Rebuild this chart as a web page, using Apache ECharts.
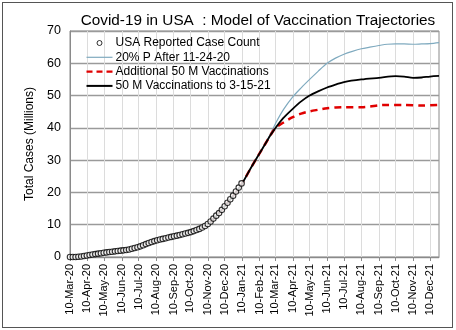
<!DOCTYPE html>
<html>
<head>
<meta charset="utf-8">
<script src="https://cdn.jsdelivr.net/npm/echarts@6/dist/echarts.min.js"></script>
<style>
html,body{margin:0;padding:0;background:#fff;}
#c{width:456px;height:330px;}
#frame{position:absolute;left:2px;top:2px;width:451px;height:326px;border:1px solid #555;pointer-events:none;box-sizing:border-box;}
</style>
</head>
<body>
<div id="c"></div>
<div id="frame"></div>
<script>
// ---- axis range ----
var axisStart = '2020-03-10';
var axisEnd = '2021-12-26';
var monthNames = ['Jan','Feb','Mar','Apr','May','Jun','Jul','Aug','Sep','Oct','Nov','Dec'];
var yTicks = [0, 10, 20, 30, 40, 50, 60, 70];

// ---- reported case counts (millions), every 5 days from 2020-03-10 ----
var reportedStart = '2020-03-10';
var reportedStepDays = 5;
var reportedValues = [
  0.001, 0.003, 0.019, 0.066, 0.163, 0.31, 0.46, 0.61, 0.76, 0.90,
  1.04, 1.18, 1.31, 1.42, 1.53, 1.64, 1.75, 1.85, 1.96, 2.06,
  2.19, 2.34, 2.55, 2.78, 3.00, 3.30, 3.65, 4.00, 4.33, 4.64,
  4.92, 5.18, 5.40, 5.61, 5.81, 6.02, 6.23, 6.42, 6.62, 6.82,
  7.04, 7.27, 7.48, 7.72, 8.02, 8.35, 8.71, 9.14, 9.62, 10.2,
  11.0, 11.9, 12.8, 13.6, 14.6, 15.7, 16.8, 17.9, 19.0, 20.3,
  21.5, 22.8
];

// ---- shared model trajectory before the scenarios diverge ----
var baseDates = ['2020-03-10','2020-03-25','2020-04-10','2020-04-25','2020-05-10','2020-05-25','2020-06-10','2020-06-25','2020-07-10','2020-07-25','2020-08-10','2020-08-25','2020-09-10','2020-09-25','2020-10-10','2020-10-25','2020-11-10','2020-11-25','2020-12-10','2020-12-25','2021-01-10','2021-01-25','2021-02-10','2021-02-20'];
var baseValues = [0.0, 0.07, 0.48, 0.93, 1.33, 1.66, 2.00, 2.42, 3.05, 4.10, 5.05, 5.75, 6.40, 7.00, 7.70, 8.65, 10.2, 12.7, 15.7, 18.9, 22.8, 27.4, 32.1, 35.0];

// ---- 20% P After 11-24-20 ----
var blueDates = ['2021-03-01','2021-03-12','2021-03-25','2021-04-10','2021-04-25','2021-05-10','2021-05-25','2021-06-10','2021-06-25','2021-07-10','2021-07-25','2021-08-10','2021-08-25','2021-09-10','2021-09-25','2021-10-10','2021-10-25','2021-11-10','2021-11-25','2021-12-10','2021-12-26'];
var blueValues = [38.0, 41.9, 45.8, 49.6, 52.4, 55.0, 57.5, 60.0, 61.6, 62.8, 63.7, 64.5, 65.0, 65.5, 65.9, 66.0, 66.0, 65.9, 66.0, 66.1, 66.4];

// ---- Additional 50 M Vaccinations ----
var redDates = ['2021-03-01','2021-03-10','2021-03-24','2021-04-10','2021-04-25','2021-05-10','2021-05-25','2021-06-10','2021-06-25','2021-07-10','2021-08-10','2021-08-25','2021-09-10','2021-09-25','2021-10-25','2021-11-25','2021-12-26'];
var redValues = [37.6, 39.9, 41.6, 43.3, 44.4, 45.1, 45.6, 46.1, 46.3, 46.4, 46.4, 46.6, 47.0, 47.1, 47.1, 46.9, 47.1];

// ---- 50 M Vaccinations to 3-15-21 ----
var blackDates = ['2021-03-01','2021-03-10','2021-03-24','2021-04-10','2021-04-25','2021-05-10','2021-05-25','2021-06-10','2021-06-25','2021-07-10','2021-08-10','2021-09-10','2021-10-10','2021-10-25','2021-11-10','2021-11-25','2021-12-10','2021-12-26'];
var blackValues = [37.6, 39.9, 43.0, 45.9, 48.2, 50.0, 51.3, 52.5, 53.4, 54.2, 55.0, 55.5, 56.0, 55.9, 55.5, 55.6, 55.9, 56.1];

var seriesNames = ['USA Reported Case Count', '20% P After 11-24-20', 'Additional 50 M Vaccinations', '50 M Vaccinations to 3-15-21'];

// ---- helpers ----
function toDate(s){ var p = s.split('-'); return new Date(Date.UTC(+p[0], +p[1]-1, +p[2])); }
function fmt(d){ var m = d.getUTCMonth()+1, dd = d.getUTCDate(); return d.getUTCFullYear()+'-'+(m<10?'0':'')+m+'-'+(dd<10?'0':'')+dd; }
var categories = [];
for (var t = toDate(axisStart).getTime(); t <= toDate(axisEnd).getTime(); t += 86400000) categories.push(fmt(new Date(t)));
function pairs(dates, values){ return dates.map(function(d,i){ return [d, values[i]]; }); }
var reportedData = reportedValues.map(function(v,i){
  return [fmt(new Date(toDate(reportedStart).getTime() + i*reportedStepDays*86400000)), v];
});
var basePairs = pairs(baseDates, baseValues);
var isTick = function(idx, val){ return val.slice(8) === '10'; };
function label(val){ var d = toDate(val); return d.getUTCDate()+'-'+monthNames[d.getUTCMonth()]+'-'+String(d.getUTCFullYear()).slice(2); }

// legend icons (26 x 10 box)
var iconCircle = 'path://M0,0M26,10M10.5,5a2.5,2.5 0 1,0 5,0a2.5,2.5 0 1,0 -5,0';
var iconThin = 'path://M0,0M26,10M0,4.4L26,4.4L26,5.6L0,5.6Z';
var iconDash = 'path://M0,0M26,10M0,3.8L6,3.8L6,6.2L0,6.2ZM10,3.8L16,3.8L16,6.2L10,6.2ZM20,3.8L26,3.8L26,6.2L20,6.2Z';
var iconThick = 'path://M0,0M26,10M0,4L26,4L26,6L0,6Z';

var FONT = '"Liberation Sans", Arial, sans-serif';
var chart = echarts.init(document.getElementById('c'), null, {renderer:'canvas'});
chart.setOption({
  animation: false,
  backgroundColor: '#fff',
  textStyle: {fontFamily: FONT},
  title: {
    text: 'Covid-19 in USA  : Model of Vaccination Trajectories',
    left: 253, top: 8, textAlign: 'center',
    textStyle: {fontFamily: FONT, fontSize: 15.3, fontWeight: 'normal', color: '#000'}
  },
  legend: {
    orient: 'vertical', left: 86, top: 37, padding: 0,
    itemWidth: 26, itemHeight: 10, itemGap: 2.3,
    textStyle: {fontFamily: FONT, fontSize: 12, lineHeight: 12, color: '#000', padding: [0,0,0,-2]},
    data: [
      {name: seriesNames[0], icon: iconCircle, itemStyle: {color: '#fff', borderColor: '#000', borderWidth: 1}},
      {name: seriesNames[1], icon: iconThin, itemStyle: {color: '#7faabf', borderWidth: 0}},
      {name: seriesNames[2], icon: iconDash, itemStyle: {color: '#e00000', borderWidth: 0}},
      {name: seriesNames[3], icon: iconThick, itemStyle: {color: '#000', borderWidth: 0}}
    ]
  },
  grid: {left: 70, right: 17, top: 31, bottom: 73, show: true, borderColor: '#8a8a8a', borderWidth: 1},
  xAxis: {
    type: 'category', data: categories, boundaryGap: false,
    axisLine: {lineStyle: {color: '#8a8a8a'}},
    axisTick: {interval: isTick, length: 4, lineStyle: {color: '#8a8a8a'}},
    axisLabel: {interval: isTick, rotate: 90, margin: 7, fontSize: 11, color: '#000', fontFamily: FONT, formatter: label},
    splitLine: {show: true, interval: isTick, lineStyle: {color: '#dcdcdc', width: 1}}
  },
  yAxis: {
    type: 'value', min: yTicks[0], max: yTicks[yTicks.length-1], interval: 10,
    name: 'Total Cases (Millions)', nameLocation: 'middle', nameGap: 34,
    nameTextStyle: {fontFamily: FONT, fontSize: 12, color: '#000'},
    axisLine: {show: true, lineStyle: {color: '#8a8a8a'}},
    axisTick: {show: false},
    axisLabel: {margin: 9, fontSize: 12.5, color: '#000', fontFamily: FONT},
    splitLine: {lineStyle: {color: '#9a9a9a', width: 1.3}}
  },
  series: [
    {
      name: seriesNames[0], type: 'scatter', data: reportedData, z: 5,
      symbol: 'circle', symbolSize: 5.5,
      itemStyle: {color: '#fff', borderColor: '#000', borderWidth: 1.1}
    },
    {
      name: seriesNames[1], type: 'line', symbol: 'none', smooth: 0.3, z: 2,
      data: basePairs.concat(pairs(blueDates, blueValues)),
      lineStyle: {color: '#7faabf', width: 1.2}, itemStyle: {color: '#7faabf'}
    },
    {
      name: seriesNames[2], type: 'line', symbol: 'none', smooth: 0.3, z: 3,
      data: basePairs.concat(pairs(redDates, redValues)),
      lineStyle: {color: '#e00000', width: 2.5, type: [7, 5]}, itemStyle: {color: '#e00000'}
    },
    {
      name: seriesNames[3], type: 'line', symbol: 'none', smooth: 0.3, z: 4,
      data: basePairs.concat(pairs(blackDates, blackValues)),
      lineStyle: {color: '#000', width: 1.8}, itemStyle: {color: '#000'}
    }
  ]
});
</script>
</body>
</html>
